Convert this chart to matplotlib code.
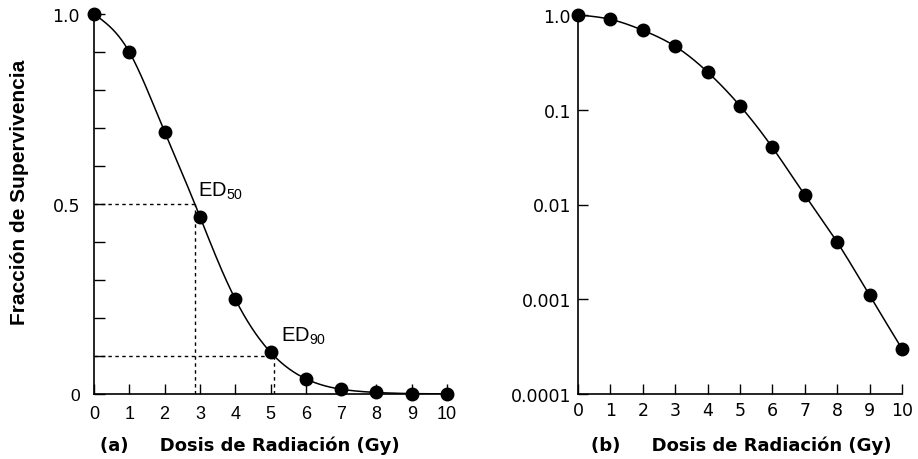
import numpy as np
import matplotlib
matplotlib.use("Agg")
import matplotlib.pyplot as plt

plt.rcParams["mathtext.fontset"] = "custom"
plt.rcParams["mathtext.rm"] = "Liberation Sans"
plt.rcParams["mathtext.it"] = "Liberation Sans:italic"
plt.rcParams["mathtext.bf"] = "Liberation Sans:bold"

# Survival fraction vs. radiation dose
dose = [0, 1, 2, 3, 4, 5, 6, 7, 8, 9, 10]
survival = [1.0, 0.9, 0.69, 0.467, 0.25, 0.11, 0.04, 0.0126, 0.004, 0.0011, 0.0003]
x_ticks = [0, 1, 2, 3, 4, 5, 6, 7, 8, 9, 10]
lin_ticks = [0, 0.5, 1.0]
lin_tick_labels = ["0", "0.5", "1.0"]
log_ticks = [0.0001, 0.001, 0.01, 0.1, 1.0]
log_tick_labels = ["0.0001", "0.001", "0.01", "0.1", "1.0"]
ed_levels = [0.5, 0.1]
ed_names = ["ED$_{50}$", "ED$_{90}$"]
x_label = "Dosis de Radiación (Gy)"


def natural_spline(x, y, xs):
    """Natural cubic spline through (x, y), evaluated at xs."""
    x = np.asarray(x, float)
    y = np.asarray(y, float)
    n = len(x)
    h = np.diff(x)
    A = np.zeros((n, n))
    b = np.zeros(n)
    A[0, 0] = A[-1, -1] = 1.0
    for i in range(1, n - 1):
        A[i, i - 1] = h[i - 1]
        A[i, i] = 2 * (h[i - 1] + h[i])
        A[i, i + 1] = h[i]
        b[i] = 6 * ((y[i + 1] - y[i]) / h[i] - (y[i] - y[i - 1]) / h[i - 1])
    M = np.linalg.solve(A, b)
    idx = np.clip(np.searchsorted(x, xs) - 1, 0, n - 2)
    x0, x1 = x[idx], x[idx + 1]
    hh = x1 - x0
    t0 = x1 - xs
    t1 = xs - x0
    return (M[idx] * t0 ** 3 / (6 * hh) + M[idx + 1] * t1 ** 3 / (6 * hh)
            + (y[idx] / hh - M[idx] * hh / 6) * t0
            + (y[idx + 1] / hh - M[idx + 1] * hh / 6) * t1)


xs = np.linspace(min(dose), max(dose), 600)
curve = np.exp(natural_spline(dose, np.log(survival), xs))

fig = plt.figure(figsize=(9.18, 4.6), dpi=100)
ax1 = fig.add_axes([94 / 918, 1 - 395 / 460, 353 / 918, 380 / 460])
ax2 = fig.add_axes([578 / 918, 1 - 395 / 460, 324 / 918, 379 / 460])

for ax in (ax1, ax2):
    for side in ("top", "right"):
        ax.spines[side].set_visible(False)
    for side in ("left", "bottom"):
        ax.spines[side].set_linewidth(1.2)
    ax.set_xlim(0, 10)
    ax.set_xticks(x_ticks)
    ax.plot(xs, curve, color="black", lw=1.1, zorder=3)
    ax.plot(dose, survival, "o", color="black", ms=9, clip_on=False, zorder=4)

# (a) linear scale
ax1.set_ylim(0, 1)
ax1.set_yticks(lin_ticks)
ax1.set_yticks(np.arange(0, 1.01, 0.1), minor=True)
ax1.set_yticklabels(lin_tick_labels, fontsize=12.5, family="DejaVu Sans")
ax1.yaxis.get_ticklabels()[0].set_family("Liberation Sans")
ax1.set_xticklabels([str(t) for t in x_ticks], fontsize=13, family="Liberation Sans")
ax1.tick_params(axis="y", which="both", direction="in", length=8, width=1.0, pad=10)
ax1.tick_params(axis="x", direction="in", length=7.2, width=1.0, pad=8)

for level, name, dx, dy in zip(ed_levels, ed_names, [0.1, 0.2], [0.021, 0.04]):
    ed = np.interp(np.log(level), np.log(curve[::-1]), xs[::-1])
    ax1.plot([0, ed], [level, level], color="black", lw=1.0, ls=(0, (2.5, 2.5)), zorder=2)
    ax1.plot([ed, ed], [0, level], color="black", lw=1.0, ls=(0, (2.5, 2.5)), zorder=2)
    ax1.text(ed + dx, level + dy, name, fontsize=14.5, family="Liberation Sans",
             ha="left", va="baseline")

ax1.set_xlabel("(a)     " + x_label, fontsize=13, fontweight="bold",
               family="DejaVu Sans", va="top")
ax1.xaxis.set_label_coords(0.442, -0.11)

# (b) logarithmic scale
ax2.set_yscale("log")
ax2.set_ylim(0.0001, 1.0)
ax2.set_yticks(log_ticks)
ax2.yaxis.set_minor_locator(matplotlib.ticker.NullLocator())
ax2.set_yticklabels(log_tick_labels, fontsize=12.5, family="DejaVu Sans")
ax2.set_xticklabels([str(t) for t in x_ticks], fontsize=12.5, family="DejaVu Sans")
ax2.tick_params(axis="y", direction="in", length=7.2, width=1.0, pad=5)
ax2.tick_params(axis="x", direction="in", length=7.2, width=1.0, pad=5)
ax2.set_xlabel("(b)     " + x_label, fontsize=13, fontweight="bold",
               family="DejaVu Sans", va="top")
ax2.xaxis.set_label_coords(0.505, -0.11)

fig.text(20 / 918, 1 - 192 / 460, "Fracción de Supervivencia", rotation=90,
         fontsize=15, fontweight="bold", family="Liberation Sans",
         ha="center", va="center")

fig.savefig("out.png", dpi=100)
